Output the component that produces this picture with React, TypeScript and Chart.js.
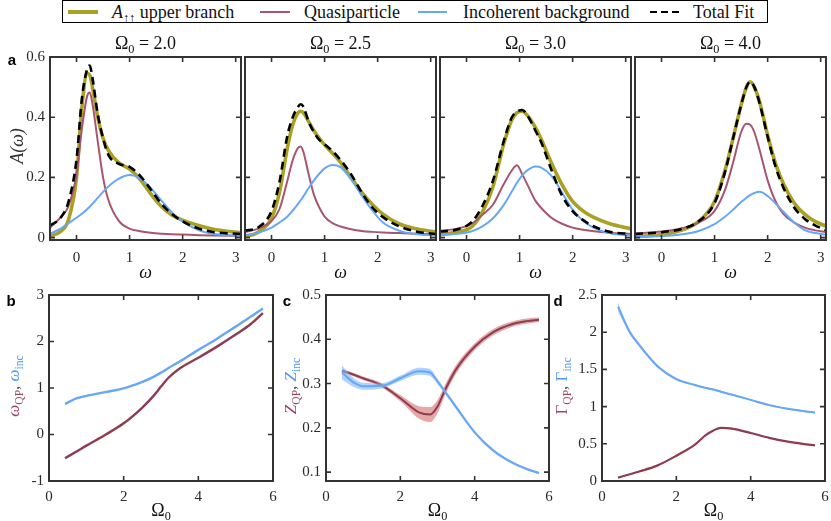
import React, { useEffect, useRef } from "react";
import { Chart, registerables } from "chart.js";

Chart.register(...registerables);

// ---------------- data ----------------
// Panel a, Omega0 = 2.0
const W1 = [-0.5, -0.3, -0.15, 0, 0.1, 0.2, 0.25, 0.3, 0.4, 0.5, 0.6, 0.8, 1.0, 1.2, 1.4, 1.6, 1.8, 2.0, 2.3, 2.6, 3.1];
const UP1 = [0.005, 0.02, 0.06, 0.2, 0.43, 0.545, 0.54, 0.5, 0.4, 0.33, 0.29, 0.248, 0.228, 0.193, 0.145, 0.103, 0.074, 0.058, 0.04, 0.027, 0.016];
const QP1 = [0.033, 0.067, 0.105, 0.21, 0.36, 0.47, 0.482, 0.445, 0.32, 0.2, 0.125, 0.055, 0.03, 0.021, 0.016, 0.013, 0.011, 0.01, 0.008, 0.007, 0.006];
const INC1 = [0.012, 0.03, 0.048, 0.066, 0.079, 0.094, 0.103, 0.112, 0.132, 0.152, 0.17, 0.196, 0.208, 0.196, 0.164, 0.123, 0.083, 0.053, 0.025, 0.012, 0.006];
const FIT1 = [0.04, 0.066, 0.12, 0.26, 0.46, 0.56, 0.572, 0.53, 0.41, 0.33, 0.275, 0.245, 0.235, 0.205, 0.16, 0.112, 0.078, 0.054, 0.03, 0.018, 0.012];

// Panel a, Omega0 = 2.5
const W2 = [-0.5, -0.25, 0, 0.15, 0.3, 0.4, 0.5, 0.55, 0.6, 0.7, 0.8, 0.9, 1.0, 1.15, 1.3, 1.5, 1.7, 1.9, 2.1, 2.4, 2.7, 3.1];
const UP2 = [0.003, 0.018, 0.065, 0.15, 0.3, 0.375, 0.415, 0.42, 0.415, 0.385, 0.355, 0.33, 0.308, 0.28, 0.25, 0.2, 0.15, 0.11, 0.078, 0.046, 0.03, 0.018];
const QP2 = [0.018, 0.03, 0.055, 0.095, 0.19, 0.258, 0.298, 0.303, 0.285, 0.21, 0.142, 0.1, 0.07, 0.048, 0.037, 0.028, 0.022, 0.019, 0.017, 0.015, 0.013, 0.012];
const INC2 = [0.008, 0.016, 0.033, 0.05, 0.07, 0.09, 0.112, 0.124, 0.137, 0.165, 0.19, 0.212, 0.23, 0.241, 0.234, 0.193, 0.14, 0.09, 0.05, 0.023, 0.012, 0.007];
const FIT2 = [0.023, 0.034, 0.088, 0.185, 0.34, 0.4, 0.435, 0.443, 0.435, 0.385, 0.35, 0.325, 0.31, 0.287, 0.258, 0.21, 0.15, 0.1, 0.068, 0.038, 0.021, 0.012];

// Panel a, Omega0 = 3.0
const W3 = [-0.5, -0.2, 0.1, 0.3, 0.5, 0.7, 0.85, 0.95, 1.05, 1.15, 1.3, 1.4, 1.6, 1.8, 2.0, 2.2, 2.4, 2.7, 3.1];
const UP3 = [0.01, 0.018, 0.036, 0.085, 0.17, 0.31, 0.39, 0.415, 0.42, 0.405, 0.365, 0.33, 0.248, 0.176, 0.12, 0.088, 0.067, 0.046, 0.029];
const QP3 = [0.023, 0.029, 0.046, 0.076, 0.11, 0.177, 0.222, 0.24, 0.21, 0.175, 0.122, 0.1, 0.066, 0.046, 0.033, 0.026, 0.021, 0.016, 0.012];
const INC3 = [0.009, 0.012, 0.021, 0.037, 0.064, 0.108, 0.152, 0.182, 0.207, 0.224, 0.236, 0.233, 0.205, 0.15, 0.093, 0.055, 0.032, 0.014, 0.007];
const FIT3 = [0.02, 0.026, 0.052, 0.105, 0.19, 0.32, 0.398, 0.418, 0.424, 0.405, 0.355, 0.32, 0.225, 0.14, 0.088, 0.058, 0.037, 0.019, 0.012];

// Panel a, Omega0 = 4.0
const W4 = [-0.5, 0, 0.4, 0.7, 1.0, 1.2, 1.35, 1.5, 1.6, 1.67, 1.75, 1.85, 2.0, 2.15, 2.3, 2.5, 2.7, 2.9, 3.1];
const UP4 = [0.003, 0.01, 0.026, 0.054, 0.12, 0.225, 0.331, 0.44, 0.5, 0.518, 0.5, 0.45, 0.34, 0.245, 0.178, 0.115, 0.077, 0.053, 0.038];
const QP4 = [0.014, 0.02, 0.032, 0.05, 0.089, 0.16, 0.25, 0.35, 0.378, 0.375, 0.35, 0.29, 0.19, 0.12, 0.078, 0.05, 0.033, 0.024, 0.018];
const INC4 = [0.003, 0.005, 0.011, 0.022, 0.045, 0.07, 0.093, 0.118, 0.132, 0.141, 0.148, 0.152, 0.138, 0.113, 0.085, 0.05, 0.025, 0.015, 0.01];
const FIT4 = [0.012, 0.018, 0.03, 0.054, 0.115, 0.22, 0.331, 0.44, 0.5, 0.518, 0.5, 0.445, 0.335, 0.235, 0.165, 0.1, 0.062, 0.04, 0.025];

const A_TITLES = ["2.0", "2.5", "3.0", "4.0"];
const A_XTICKS = [0, 1, 2, 3];
const A_YTICKS = [0, 0.2, 0.4, 0.6];

// Panels b, c, d
const OMEGA0 = [0.43, 0.75, 1.0, 1.5, 2.0, 2.5, 2.8, 3.0, 3.2, 3.5, 4.0, 4.5, 5.0, 5.4, 5.73];
const W_QP = [-0.51, -0.36, -0.24, -0.01, 0.24, 0.58, 0.83, 1.03, 1.22, 1.42, 1.65, 1.89, 2.15, 2.37, 2.61];
const W_INC = [0.66, 0.78, 0.83, 0.91, 0.99, 1.13, 1.24, 1.33, 1.43, 1.57, 1.82, 2.06, 2.32, 2.53, 2.71];
const Z_QP = [0.329, 0.32, 0.312, 0.296, 0.267, 0.235, 0.23, 0.248, 0.285, 0.332, 0.383, 0.416, 0.434, 0.441, 0.444];
const Z_QP_ERR = [0.004, 0.004, 0.004, 0.005, 0.007, 0.014, 0.017, 0.015, 0.012, 0.01, 0.008, 0.007, 0.006, 0.006, 0.005];
const Z_INC = [0.325, 0.302, 0.294, 0.295, 0.312, 0.328, 0.325, 0.305, 0.282, 0.247, 0.19, 0.149, 0.122, 0.107, 0.098];
const Z_INC_ERR = [0.016, 0.01, 0.008, 0.006, 0.006, 0.008, 0.008, 0.006, 0.005, 0.005, 0.004, 0.004, 0.003, 0.003, 0.003];
const G_QP = [0.045, 0.09, 0.127, 0.21, 0.34, 0.49, 0.62, 0.68, 0.715, 0.705, 0.645, 0.58, 0.53, 0.5, 0.48];
const G_QP_ERR = [0.008, 0.008, 0.008, 0.008, 0.008, 0.008, 0.008, 0.008, 0.008, 0.008, 0.008, 0.008, 0.008, 0.008, 0.008];
const G_INC = [2.34, 2.0, 1.83, 1.54, 1.37, 1.29, 1.25, 1.23, 1.2, 1.16, 1.09, 1.02, 0.97, 0.94, 0.92];
const G_INC_ERR = [0.06, 0.03, 0.025, 0.02, 0.015, 0.012, 0.012, 0.012, 0.012, 0.012, 0.012, 0.012, 0.012, 0.012, 0.012];

const BOT_XTICKS = [0, 2, 4, 6];
const B_YTICKS = [-1, 0, 1, 2, 3];
const C_YTICKS = [0.1, 0.2, 0.3, 0.4, 0.5];
const D_YTICKS = [0, 0.5, 1, 1.5, 2, 2.5];

// ---------------- styles ----------------
const SERIF = '"Liberation Serif", "DejaVu Serif", serif';
const SANS = '"Liberation Sans", Arial, sans-serif';
const OLIVE = "#A9A123";
const ROSE = "#A8566E";
const BLUE = "#66A7F7";
const DARKRED = "#8E3C52";
const RED_BAND = "rgba(222,138,138,0.75)";
const BLUE_BAND = "rgba(125,180,250,0.6)";
const AXIS = "#333333";
const LBL_RED = "#A0485E";
const LBL_BLUE = "#4E98F2";

const YW = 45;
const PT = 22;
const PR = 18;
const XH = 32;

type Area = { l: number; t: number; r: number; b: number };

const A_AREAS: Area[] = [
  { l: 50, t: 57, r: 241, b: 240 },
  { l: 245, t: 57, r: 436, b: 240 },
  { l: 440, t: 57, r: 631, b: 240 },
  { l: 635, t: 57, r: 826, b: 240 },
];
const B_AREA: Area = { l: 49, t: 295, r: 273, b: 481 };
const C_AREA: Area = { l: 326, t: 295, r: 549, b: 481 };
const D_AREA: Area = { l: 602, t: 295, r: 825, b: 481 };

const framePlugin = {
  id: "frame",
  afterDatasetsDraw(chart: any) {
    const { ctx, chartArea: a } = chart;
    const xs = chart.scales.x;
    const ys = chart.scales.y;
    const L = 5;
    ctx.save();
    ctx.strokeStyle = AXIS;
    ctx.lineWidth = 1.6;
    ctx.beginPath();
    xs.ticks.forEach((t: any) => {
      const p = xs.getPixelForValue(t.value);
      ctx.moveTo(p, a.bottom);
      ctx.lineTo(p, a.bottom - L);
      ctx.moveTo(p, a.top);
      ctx.lineTo(p, a.top + L);
    });
    ys.ticks.forEach((t: any) => {
      const p = ys.getPixelForValue(t.value);
      ctx.moveTo(a.left, p);
      ctx.lineTo(a.left + L, p);
      ctx.moveTo(a.right, p);
      ctx.lineTo(a.right - L, p);
    });
    ctx.stroke();
    ctx.lineWidth = 2;
    ctx.strokeRect(a.left, a.top, a.right - a.left, a.bottom - a.top);
    ctx.restore();
  },
};

function line(xs: number[], ys: number[], color: string, width: number, dash?: number[]) {
  return {
    data: xs.map((x, i) => ({ x, y: ys[i] })),
    borderColor: color,
    backgroundColor: color,
    borderWidth: width,
    borderDash: dash || [],
    pointRadius: 0,
    fill: false,
    cubicInterpolationMode: "monotone",
    borderCapStyle: "butt",
    borderJoinStyle: "round",
  };
}

function band(xs: number[], c: number[], e: number[], color: string) {
  return [
    {
      data: xs.map((x, i) => ({ x, y: c[i] + e[i] })),
      borderWidth: 0,
      borderColor: "rgba(0,0,0,0)",
      backgroundColor: color,
      pointRadius: 0,
      fill: "+1",
      cubicInterpolationMode: "monotone",
    },
    {
      data: xs.map((x, i) => ({ x, y: c[i] - e[i] })),
      borderWidth: 0,
      borderColor: "rgba(0,0,0,0)",
      backgroundColor: color,
      pointRadius: 0,
      fill: false,
      cubicInterpolationMode: "monotone",
    },
  ];
}

type PlotProps = {
  area: Area;
  datasets: any[];
  xmin: number;
  xmax: number;
  xticks: number[];
  ymin: number;
  ymax: number;
  yticks: number[];
  showY: boolean;
  xpad: number;
};

function Plot(p: PlotProps) {
  const ref = useRef<HTMLCanvasElement>(null);
  const w = p.area.r - p.area.l + YW + PR;
  const h = p.area.b - p.area.t + PT + XH;
  useEffect(() => {
    const tickFont = { family: SERIF, size: 15 };
    const chart = new Chart(ref.current as HTMLCanvasElement, {
      type: "line",
      data: { datasets: p.datasets },
      options: {
        responsive: false,
        animation: false,
        events: [],
        layout: { padding: { left: 0, top: PT, right: PR, bottom: 0 } },
        plugins: { legend: { display: false }, tooltip: { enabled: false } },
        scales: {
          x: {
            type: "linear",
            min: p.xmin,
            max: p.xmax,
            afterBuildTicks: (s: any) => {
              s.ticks = p.xticks.map((v) => ({ value: v }));
            },
            afterFit: (s: any) => {
              s.height = XH;
            },
            grid: { display: false, drawTicks: false },
            border: { display: false },
            ticks: {
              font: tickFont,
              color: "#2a2a2a",
              padding: p.xpad,
              maxRotation: 0,
              autoSkip: false,
              callback: (v: any) => String(v),
            },
          },
          y: {
            type: "linear",
            min: p.ymin,
            max: p.ymax,
            afterBuildTicks: (s: any) => {
              s.ticks = p.yticks.map((v) => ({ value: v }));
            },
            afterFit: (s: any) => {
              s.width = YW;
            },
            grid: { display: false, drawTicks: false },
            border: { display: false },
            ticks: {
              display: p.showY,
              font: tickFont,
              color: "#2a2a2a",
              padding: 5,
              autoSkip: false,
              callback: (v: any) => String(v),
            },
          },
        },
      } as any,
      plugins: [framePlugin as any],
    });
    return () => chart.destroy();
  }, []);
  return (
    <canvas
      ref={ref}
      width={w}
      height={h}
      style={{ position: "absolute", left: p.area.l - YW, top: p.area.t - PT, width: w, height: h }}
    />
  );
}

const Sub = ({ children }: { children: React.ReactNode }) => (
  <span style={{ fontSize: "68%", position: "relative", top: "0.32em", fontStyle: "normal" }}>{children}</span>
);

function Txt({ x, y, children, style, rotate }: any) {
  return (
    <div
      style={{
        position: "absolute",
        left: x,
        top: y,
        transform: `translate(-50%, -50%)${rotate ? " rotate(-90deg)" : ""}`,
        whiteSpace: "nowrap",
        fontFamily: SERIF,
        fontSize: 18,
        lineHeight: 1,
        color: "#111",
        ...style,
      }}
    >
      {children}
    </div>
  );
}

function LegendItem({ x, w, sample, label, textX }: any) {
  return (
    <>
      <div style={{ position: "absolute", left: x, top: 12 - sample.h / 2, width: w, height: sample.h, background: sample.bg }} />
      <div style={{ position: "absolute", left: textX, top: 12, transform: "translateY(-50%)", whiteSpace: "nowrap", fontFamily: SERIF, fontSize: 18, lineHeight: 1, color: "#111" }}>
        {label}
      </div>
    </>
  );
}

export default function App() {
  const aX = [W1, W2, W3, W4];
  const aUp = [UP1, UP2, UP3, UP4];
  const aQp = [QP1, QP2, QP3, QP4];
  const aInc = [INC1, INC2, INC3, INC4];
  const aFit = [FIT1, FIT2, FIT3, FIT4];

  const panelsA = A_AREAS.map((area, i) => ({
    area,
    datasets: [
      line(aX[i], aFit[i], "#000", 2.6, [8, 5]),
      line(aX[i], aInc[i], BLUE, 2),
      line(aX[i], aQp[i], ROSE, 2),
      line(aX[i], aUp[i], OLIVE, 3.6),
    ],
  }));

  const bSets = [line(OMEGA0, W_INC, BLUE, 2.4), line(OMEGA0, W_QP, DARKRED, 2.4)];
  const cSets = [
    line(OMEGA0, Z_INC, BLUE, 2),
    ...band(OMEGA0, Z_INC, Z_INC_ERR, BLUE_BAND),
    line(OMEGA0, Z_QP, DARKRED, 2),
    ...band(OMEGA0, Z_QP, Z_QP_ERR, RED_BAND),
  ];
  const dSets = [
    line(OMEGA0, G_INC, BLUE, 2),
    ...band(OMEGA0, G_INC, G_INC_ERR, BLUE_BAND),
    line(OMEGA0, G_QP, DARKRED, 2.2),
    ...band(OMEGA0, G_QP, G_QP_ERR, "rgba(190,110,125,0.5)"),
  ];

  const cx = (a: Area) => (a.l + a.r) / 2;
  const cy = (a: Area) => (a.t + a.b) / 2;
  const letter = { fontFamily: SANS, fontWeight: 700, fontSize: 15, color: "#000" };

  return (
    <div style={{ position: "absolute", left: 0, top: 0, width: 831, height: 521, background: "#fff", overflow: "hidden" }}>
      {/* legend */}
      <div style={{ position: "absolute", left: 62, top: 0, width: 706, height: 23, border: "1.5px solid #000", boxSizing: "border-box" }} />
      <LegendItem
        x={68}
        w={30}
        sample={{ h: 3.6, bg: OLIVE }}
        textX={112}
        label={
          <span>
            <i>A</i>
            <Sub>↑↑</Sub> upper branch
          </span>
        }
      />
      <LegendItem x={260} w={30} sample={{ h: 2, bg: ROSE }} textX={304} label="Quasiparticle" />
      <LegendItem x={418} w={29} sample={{ h: 2, bg: BLUE }} textX={463} label="Incoherent background" />
      <LegendItem
        x={650}
        w={29}
        sample={{ h: 2.6, bg: "repeating-linear-gradient(to right, #000 0 7px, transparent 7px 11px)" }}
        textX={693}
        label="Total Fit"
      />

      {/* panel a */}
      {panelsA.map((pa, i) => (
        <Plot
          key={"a" + i}
          area={pa.area}
          datasets={pa.datasets}
          xmin={-0.5}
          xmax={3.1}
          xticks={A_XTICKS}
          ymin={-0.008}
          ymax={0.6}
          yticks={A_YTICKS}
          showY={i === 0}
          xpad={9}
        />
      ))}
      {A_AREAS.map((a, i) => (
        <Txt key={"t" + i} x={cx(a)} y={43}>
          Ω<Sub>0</Sub> = {A_TITLES[i]}
        </Txt>
      ))}
      {A_AREAS.map((a, i) => (
        <Txt key={"w" + i} x={cx(a)} y={272} style={{ fontStyle: "italic" }}>
          ω
        </Txt>
      ))}
      <Txt x={17} y={146} rotate style={{ fontStyle: "italic", color: "#333" }}>
        A(ω)
      </Txt>
      <Txt x={12} y={59} style={letter}>
        a
      </Txt>

      {/* panel b */}
      <Plot area={B_AREA} datasets={bSets} xmin={0} xmax={6} xticks={BOT_XTICKS} ymin={-1} ymax={3} yticks={B_YTICKS} showY xpad={7} />
      <Txt x={11} y={300} style={letter}>
        b
      </Txt>
      <Txt x={13} y={cy(B_AREA) - 2} rotate style={{ fontSize: 17 }}>
        <span style={{ color: LBL_RED }}>
          <i>ω</i>
          <Sub>QP</Sub>
        </span>
        <span style={{ color: "#555" }}>, </span>
        <span style={{ color: LBL_BLUE }}>
          <i>ω</i>
          <Sub>inc</Sub>
        </span>
      </Txt>
      <Txt x={cx(B_AREA)} y={510}>
        Ω<Sub>0</Sub>
      </Txt>

      {/* panel c */}
      <Plot area={C_AREA} datasets={cSets} xmin={0} xmax={6} xticks={BOT_XTICKS} ymin={0.08} ymax={0.5} yticks={C_YTICKS} showY xpad={7} />
      <Txt x={287} y={300} style={letter}>
        c
      </Txt>
      <Txt x={290} y={cy(C_AREA) - 2} rotate style={{ fontSize: 17 }}>
        <span style={{ color: LBL_RED }}>
          <i>Z</i>
          <Sub>QP</Sub>
        </span>
        <span style={{ color: "#555" }}>, </span>
        <span style={{ color: LBL_BLUE }}>
          <i>Z</i>
          <Sub>inc</Sub>
        </span>
      </Txt>
      <Txt x={cx(C_AREA)} y={510}>
        Ω<Sub>0</Sub>
      </Txt>

      {/* panel d */}
      <Plot area={D_AREA} datasets={dSets} xmin={0} xmax={6} xticks={BOT_XTICKS} ymin={0} ymax={2.5} yticks={D_YTICKS} showY xpad={7} />
      <Txt x={558} y={300} style={letter}>
        d
      </Txt>
      <Txt x={561} y={cy(D_AREA) - 2} rotate style={{ fontSize: 17 }}>
        <span style={{ color: LBL_RED }}>
          Γ<Sub>QP</Sub>
        </span>
        <span style={{ color: "#555" }}>, </span>
        <span style={{ color: LBL_BLUE }}>
          Γ<Sub>inc</Sub>
        </span>
      </Txt>
      <Txt x={cx(D_AREA)} y={510}>
        Ω<Sub>0</Sub>
      </Txt>
    </div>
  );
}
